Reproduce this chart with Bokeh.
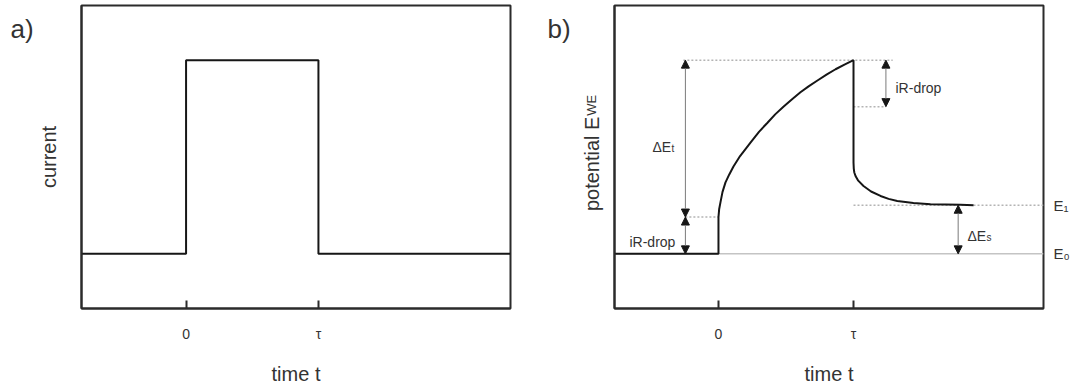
from math import pi

from bokeh.core.properties import value
from bokeh.embed import file_html
from bokeh.layouts import row
from bokeh.models import Arrow, FixedTicker, LinearAxis, NormalHead, Range1d, Span
from bokeh.plotting import figure
from bokeh.resources import INLINE

FONT = "Liberation Sans"
INK = "#2b2b2b"
CURVE = "#161616"
TEXT = "#333333"
DOTS = "#b4b4b4"

# ---------------------------------------------------------------------------
# a) galvanostatic current pulse (normalised: 0 = rest, 1 = applied current)
t_current = [-0.79, 0.0, 0.0, 1.0, 1.0, 2.45]
i_current = [0.0, 0.0, 1.0, 1.0, 0.0, 0.0]

# b) working-electrode potential response (normalised: E0 = 0, peak = 1)
t_potential = [-0.77, 0.0, 0.0, 0.005, 0.015, 0.03, 0.052, 0.08, 0.111, 0.16,
               0.237, 0.30, 0.363, 0.42, 0.481, 0.545, 0.607, 0.67, 0.733,
               0.80, 0.867, 0.933, 1.0,
               1.0, 1.002, 1.006, 1.015, 1.035, 1.074, 1.13, 1.2, 1.26,
               1.324, 1.444, 1.57, 1.793, 1.889]
e_potential = [0.0, 0.0, 0.19, 0.23, 0.267, 0.32, 0.369, 0.41, 0.451, 0.505,
               0.574, 0.63, 0.677, 0.72, 0.759, 0.798, 0.834, 0.866, 0.895,
               0.925, 0.953, 0.977, 1.0,
               0.472, 0.44, 0.42, 0.402, 0.378, 0.350, 0.322, 0.299, 0.284,
               0.273, 0.262, 0.256, 0.253, 0.251]

# characteristic potential levels
E0 = 0.0            # rest potential before the pulse
E_IR_ON = 0.19      # after the ohmic jump at t = 0
E_PEAK = 1.0        # end of the pulse
E_IR_OFF = 0.76     # after the ohmic drop at t = tau
E1 = 0.251          # relaxed potential after the pulse

tick_positions = [0.0, 1.0]
tick_labels = ["0", "τ"]
level_ticks = [E0, E1]
level_labels = ["E₀", "E₁"]

Y_RANGE = (-0.282, 1.282)
HEIGHT = 387
TOP, BOTTOM = 5, 77


def make_panel(width, border_left, border_right, x_lo, x_hi, ylabel):
    p = figure(width=width, height=HEIGHT,
               x_range=Range1d(x_lo, x_hi), y_range=Range1d(*Y_RANGE),
               output_backend="svg", toolbar_location=None,
               min_border_left=border_left, min_border_right=border_right,
               min_border_top=TOP, min_border_bottom=BOTTOM,
               background_fill_color="white", border_fill_color="white")
    p.grid.visible = False
    p.outline_line_color = INK
    p.outline_line_width = 2
    p.outline_line_alpha = 1.0

    xa = p.xaxis[0]
    xa.ticker = FixedTicker(ticks=tick_positions, minor_ticks=[])
    xa.major_label_overrides = {tp: lab for tp, lab in zip(tick_positions, tick_labels)}
    xa.major_tick_in = 8
    xa.major_tick_out = 0
    xa.major_tick_line_width = 2
    xa.major_tick_line_color = INK
    xa.axis_line_color = INK
    xa.axis_line_width = 2
    xa.major_label_standoff = 17
    xa.major_label_text_font = FONT
    xa.major_label_text_font_size = "14px"
    xa.major_label_text_color = TEXT
    xa.axis_label = "time t"
    xa.axis_label_text_font = FONT
    xa.axis_label_text_font_size = "20px"
    xa.axis_label_text_font_style = "normal"
    xa.axis_label_text_color = TEXT
    xa.axis_label_standoff = 18

    ya = p.yaxis[0]
    ya.ticker = FixedTicker(ticks=[], minor_ticks=[])
    ya.major_tick_out = 0
    ya.major_tick_in = 0
    ya.axis_line_color = INK
    ya.axis_line_width = 2
    if ylabel:
        ya.axis_label = ylabel
        ya.axis_label_text_font = FONT
        ya.axis_label_text_font_size = "20px"
        ya.axis_label_text_font_style = "normal"
        ya.axis_label_text_color = TEXT
        ya.axis_label_standoff = 22
    return p


def make_gutter(width):
    # narrow strip beside a panel, sharing its vertical scale, for side texts
    g = figure(width=width, height=HEIGHT,
               x_range=Range1d(0, width), y_range=Range1d(*Y_RANGE),
               output_backend="svg", toolbar_location=None,
               x_axis_location=None, y_axis_location=None,
               min_border_left=0, min_border_right=0,
               min_border_top=TOP, min_border_bottom=BOTTOM,
               background_fill_color="white", border_fill_color="white")
    g.grid.visible = False
    g.outline_line_color = None
    return g


def text(p, x, y, txt, size, x_offset=0, baseline="alphabetic", angle=0.0):
    p.text(x=[x], y=[y], text=[txt], x_offset=x_offset, angle=angle,
           text_font=value(FONT), text_font_size=value(size),
           text_color=TEXT, text_baseline=baseline, text_align="left")


def arrow(p, x, y0, y1):
    p.add_layout(Arrow(x_start=x, y_start=y0, x_end=x, y_end=y1,
                       line_color="#7a7a7a", line_width=1,
                       start=NormalHead(size=8, fill_color=CURVE, line_color=CURVE, line_width=1),
                       end=NormalHead(size=8, fill_color=CURVE, line_color=CURVE, line_width=1)))


# ---------------------------------------------------------------------------
# panel tag a)
ga = make_gutter(34)
text(ga, 10, 1.159, "a)", "26px", baseline="middle")

# panel a
pa = make_panel(506, 45, 30, -0.79, 2.451, "current")
pa.line(t_current, i_current, line_color=CURVE, line_width=2)

# ---------------------------------------------------------------------------
# panel tag b) and the vertical title of panel b (with subscript)
gb = make_gutter(70)
text(gb, 7, 1.159, "b)", "26px", baseline="middle")
text(gb, 51, 0.221, "potential E", "20px", angle=pi / 2)
text(gb, 51, 0.221 + 96 / 195, "WE", "13px", angle=pi / 2)

# panel b
x_lo_b, x_hi_b = -0.77, 2.407
pb = make_panel(465, 4, 32, x_lo_b, x_hi_b, "")

# level labels E0 / E1 on the right-hand side
ra = LinearAxis(ticker=FixedTicker(ticks=level_ticks, minor_ticks=[]),
                major_label_overrides={lv: lab for lv, lab in zip(level_ticks, level_labels)},
                axis_line_color=None, major_tick_in=0, major_tick_out=0,
                major_label_standoff=10, major_label_text_font=FONT,
                major_label_text_font_size="15px", major_label_text_color=TEXT)
pb.add_layout(ra, "right")

# E0 reference line and dotted guide lines
pb.add_layout(Span(location=E0, dimension="width", line_color="#c4c4c4",
                   line_width=1.5, level="underlay"))
guide = dict(line_color=DOTS, line_width=1.5, line_dash="2 2")
pb.segment(x0=[-0.26, 1.0, -0.245, 1.0], y0=[E_PEAK, E_IR_OFF, E_IR_ON, E1],
           x1=[1.29, 1.24, 0.0, x_hi_b], y1=[E_PEAK, E_IR_OFF, E_IR_ON, E1], **guide)

pb.line(t_potential, e_potential, line_color=CURVE, line_width=2)

# double-headed arrows
arrow(pb, -0.245, E_IR_ON, E_PEAK)
arrow(pb, -0.245, E0, E_IR_ON)
arrow(pb, 1.24, E_IR_OFF, E_PEAK)
arrow(pb, 1.775, E0, E1)

# annotations inside the frame (subscripts set slightly below the baseline)
SUB_DROP = 0.008
text(pb, -0.489, 0.554, "ΔE", "14px")
text(pb, -0.489, 0.554 - SUB_DROP, "t", "10px", x_offset=19)
text(pb, -0.659, 0.062, "iR-drop", "14px")
text(pb, 1.311, 0.856, "iR-drop", "14px")
text(pb, 1.844, 0.092, "ΔE", "14px")
text(pb, 1.844, 0.092 - SUB_DROP, "s", "10px", x_offset=19)

layout = row(ga, pa, gb, pb)
open("out.html", "w").write(file_html(layout, INLINE))
